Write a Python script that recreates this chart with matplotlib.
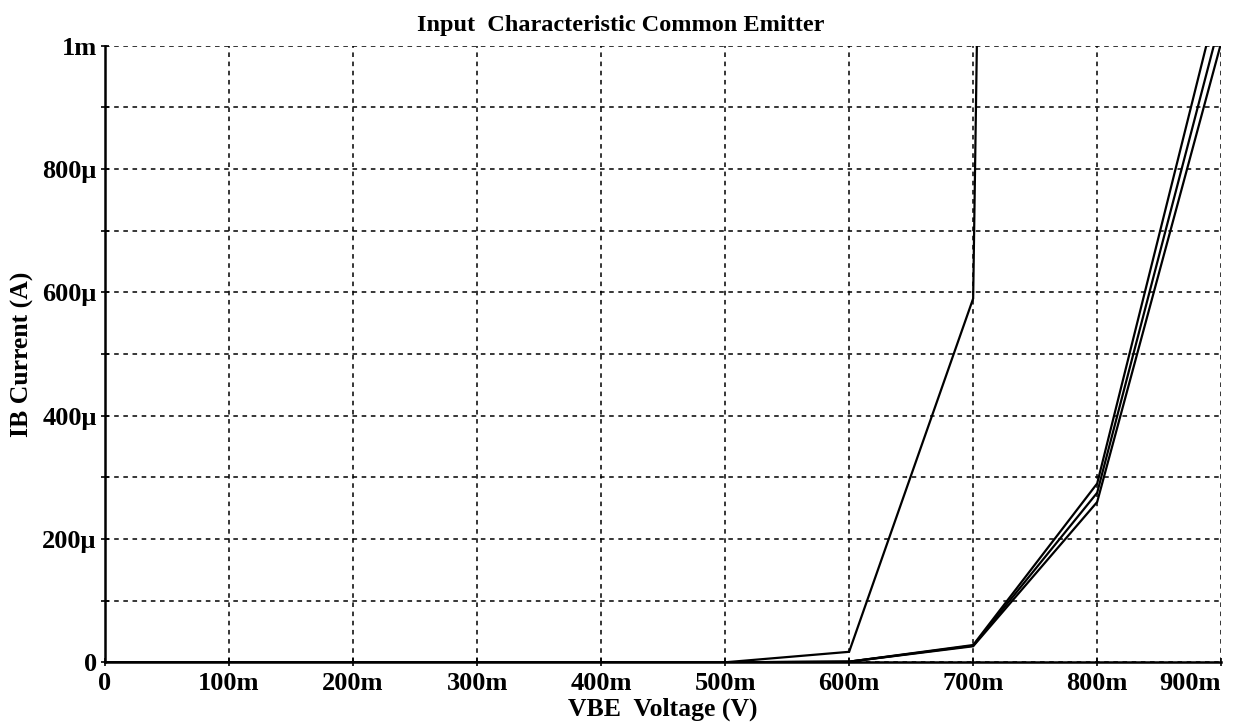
import matplotlib
matplotlib.use("Agg")
from matplotlib import pyplot as plt
from matplotlib.ticker import MultipleLocator, FixedLocator
import numpy as np

# VBE sweep points (V)
vbe = [0.0, 0.1, 0.2, 0.3, 0.4, 0.5, 0.6, 0.7, 0.8, 0.9]

# IB (A) for each trace; values above 1m are clipped by the axes
ib_1 = [0, 0, 0, 0, 0, 0, 17e-6, 590e-6, 14.3e-3, np.nan]
ib_2 = [0, 0, 0, 0, 0, 0, 1e-6, 28e-6, 290e-6, 1.097e-3]
ib_3 = [0, 0, 0, 0, 0, 0, 1e-6, 27e-6, 275e-6, 1.046e-3]
ib_4 = [0, 0, 0, 0, 0, 0, 1e-6, 26e-6, 260e-6, 1.005e-3]

x_ticks = [0, 0.1, 0.2, 0.3, 0.4, 0.5, 0.6, 0.7, 0.8, 0.9]
x_labels = ["0", "100m", "200m", "300m", "400m", "500m", "600m", "700m", "800m", "900m"]
y_ticks = [0, 200e-6, 400e-6, 600e-6, 800e-6, 1e-3]
y_labels = ["0", "200\u03bc", "400\u03bc", "600\u03bc", "800\u03bc", "1m"]

plt.rcParams['font.family'] = ['Liberation Serif', 'DejaVu Serif']
plt.rcParams['font.weight'] = 'bold'

fig = plt.figure(figsize=(12.36, 7.27), dpi=100)
ax = fig.add_axes([0.085, 0.089, 0.903, 0.848])

for ib in (ib_1, ib_2, ib_3, ib_4):
    ax.plot(vbe, ib, color='black', lw=1.6, solid_joinstyle='miter')

ax.set_xlim(0, 0.9)
ax.set_ylim(0, 1e-3)

ax.xaxis.set_major_locator(FixedLocator(x_ticks))
ax.set_xticklabels(x_labels)
ax.yaxis.set_major_locator(FixedLocator(y_ticks))
ax.set_yticklabels(y_labels)
ax.yaxis.set_minor_locator(MultipleLocator(100e-6))
# last x label sits inside the right edge, as in the original
ax.get_xticklabels()[-1].set_horizontalalignment('right')

ax.grid(True, which='both', color='black', linestyle=(0, (3, 3)), lw=1.1)
ax.tick_params(which='both', direction='inout', length=6, width=1.2, labelsize=19)
ax.tick_params(axis='y', pad=3)
ax.tick_params(axis='x', pad=4)

for side in ('top', 'right'):
    ax.spines[side].set_visible(False)
for side in ('left', 'bottom'):
    ax.spines[side].set_linewidth(1.8)

ax.set_title("Input  Characteristic Common Emitter", fontsize=17.5, fontweight='bold',
             x=0.462, pad=11)
ax.set_xlabel("VBE  Voltage (V)", fontsize=18.5, fontweight='bold', labelpad=2)
ax.set_ylabel("IB Current (A)", fontsize=18.5, fontweight='bold', labelpad=6)

fig.savefig("out.png", dpi=100, facecolor='white')
